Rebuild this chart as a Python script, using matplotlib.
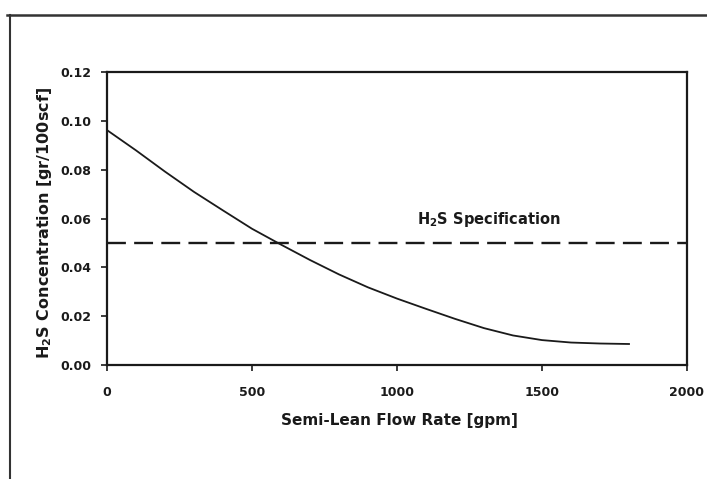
import matplotlib
matplotlib.use("Agg")
import matplotlib.pyplot as plt
from matplotlib.lines import Line2D

plt.rcParams['font.family'] = ['DejaVu Sans']
plt.rcParams['font.weight'] = 'bold'
plt.rcParams['mathtext.fontset'] = 'custom'
plt.rcParams['mathtext.rm'] = 'DejaVu Sans:bold'
plt.rcParams['mathtext.default'] = 'rm'

# semi-lean flow rate [gpm] vs H2S in treated gas [gr/100scf]
flow_rate = [0, 100, 200, 300, 400, 500, 600, 700, 800, 900,
             1000, 1100, 1200, 1300, 1400, 1500, 1600, 1700, 1800]
h2s_conc = [0.0962, 0.0879, 0.0792, 0.0709, 0.0633, 0.0558, 0.0493, 0.0430, 0.0371, 0.0318,
            0.0272, 0.0230, 0.0189, 0.0151, 0.0121, 0.0102, 0.0092, 0.0088, 0.0086]
spec_x = [0, 2000]
spec_y = [0.05, 0.05]

x_ticks = [0, 500, 1000, 1500, 2000]
y_ticks = [0.00, 0.02, 0.04, 0.06, 0.08, 0.10, 0.12]

ink = '#1a1a1a'

fig = plt.figure(figsize=(7.07, 4.79), dpi=100)
ax = fig.add_axes([107 / 707, 1 - 365 / 479, 580 / 707, 293 / 479])

ax.plot(flow_rate, h2s_conc, color=ink, lw=1.3)
ax.plot(spec_x, spec_y, color=ink, lw=1.7, dashes=(8, 3.5))
ax.text(1070, 0.0595, r"H$_2$S Specification", fontsize=10.5, fontweight='bold',
        color=ink, va='center', ha='left')

ax.set_xlim(0, 2000)
ax.set_ylim(0, 0.12)
ax.set_xticks(x_ticks)
ax.set_yticks(y_ticks)
ax.set_xticklabels([str(v) for v in x_ticks])
ax.set_yticklabels(["%.2f" % v for v in y_ticks])
ax.tick_params(direction='out', length=4, width=1.2, colors=ink, labelsize=9)
ax.tick_params(axis='x', pad=11)
ax.tick_params(axis='y', pad=7)
for lab in ax.get_xticklabels() + ax.get_yticklabels():
    lab.set_fontweight('bold')
for s in ax.spines.values():
    s.set_linewidth(1.6)
    s.set_color(ink)

fig.text(399 / 707, 1 - 420 / 479, "Semi-Lean Flow Rate [gpm]", fontsize=11,
         fontweight='bold', color=ink, ha='center', va='center')
fig.text(45 / 707, 1 - 223 / 479, r"H$_2$S Concentration [gr/100scf]", fontsize=11.5,
         fontweight='bold', color=ink, ha='center', va='center', rotation=90)

# scanned page frame
fig.add_artist(Line2D([7 / 707, 1], [1 - 15 / 479, 1 - 15 / 479], color='#333333', lw=1.8))
fig.add_artist(Line2D([10 / 707, 10 / 707], [0, 1 - 15 / 479], color='#333333', lw=1.5))

fig.savefig("out.png", dpi=100)
